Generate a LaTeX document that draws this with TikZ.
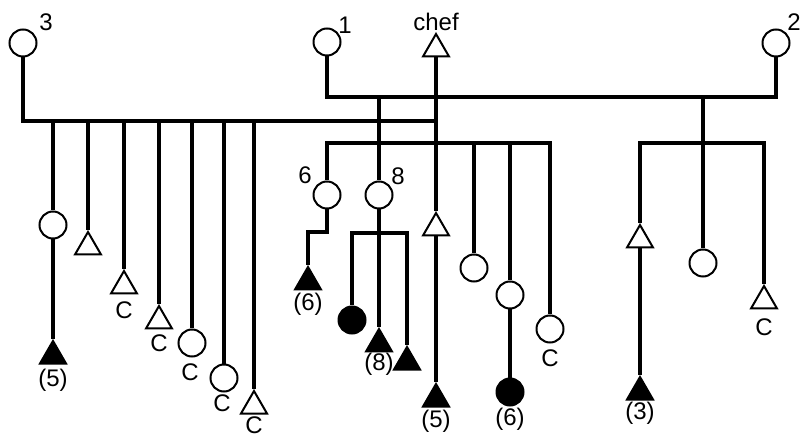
\documentclass[tikz,border=0pt]{standalone}
\usepackage{fontspec}
\setmainfont{Liberation Sans}
\usetikzlibrary{positioning,shapes.geometric}
\tikzstyle{fem} = [circle, draw=black, line width=1pt, minimum size=13.5pt, inner sep=0pt, fill=white]
\tikzstyle{mal} = [regular polygon, regular polygon sides=3, draw=black, line width=1pt, minimum size=15pt, inner sep=0pt, fill=white]
\tikzstyle{femx} = [fem, fill=black]
\tikzstyle{malx} = [mal, fill=black]
\tikzstyle{kin} = [draw, line width=1.6pt, color=black]
\tikzstyle{tag} = [inner sep=0.5pt, font=\fontsize{12}{13}\selectfont]

\begin{document}
\begin{tikzpicture}[x=0.5pt,y=-0.5pt]
  \useasboundingbox (0,0) rectangle (801,437);
  % first generation
  \node (w3) [fem] at (23,43) {};
  \node [tag] at (46,22) {3};
  \node (w1) [fem] at (327,42) {};
  \node [tag] at (345,25) {1};
  \node (w2) [fem] at (776,43) {};
  \node [tag] at (794,22) {2};
  \node (chef) [mal] at (436,49) {};
  \node [tag, above=0pt of chef] {chef};
  \coordinate (b3) at (436,121);
  \coordinate (b12) at (703,97);
  \draw [kin] (w3) |- (b3);
  \draw [kin] (w1) |- (b12) -| (w2);
  % children of 3
  \node (a1) [fem] at (53,225) {};
  \node (a1x) [malx] at (53,356) {};
  \node [tag, below=1.5pt of a1x] {(5)};
  \draw [kin] (a1) -- (a1|-b3);
  \draw [kin] (a1) -- (a1x);
  \node (a2) [mal] at (88,247) {};
  \draw [kin] (a2) -- (a2|-b3);
  \node (a3) [mal] at (124,286) {};
  \node [tag, below=3pt of a3] {C};
  \draw [kin] (a3) -- (a3|-b3);
  \node (a4) [mal] at (159,321) {};
  \node [tag, below=2pt of a4] {C};
  \draw [kin] (a4) -- (a4|-b3);
  \node (a5) [fem] at (192,343) {};
  \node [tag, below=2.5pt of a5, xshift=-1pt] {C};
  \draw [kin] (a5) -- (a5|-b3);
  \node (a6) [fem] at (224,378) {};
  \node [tag, below=0.5pt of a6, xshift=-1pt] {C};
  \draw [kin] (a6) -- (a6|-b3);
  \node (a7) [mal] at (254,406) {};
  \node [tag] at (254,425) {C};
  \draw [kin] (a7) -- (a7|-b3);
  % children of 1
  \coordinate (mbar) at (550,143);
  \node (w6) [fem] at (327,195) {};
  \node [tag] at (305,175) {6};
  \node (w8) [fem] at (379,195) {};
  \node [tag] at (398,176) {8};
  \node (s5) [mal] at (436,228) {};
  \node (g5) [malx] at (436,399) {};
  \node [tag, below=0.5pt of g5] {(5)};
  \node (b4) [fem] at (474,268) {};
  \node (b5) [fem] at (510,295) {};
  \node (b5x) [femx] at (510,392) {};
  \node [tag, below=0pt of b5x] {(6)};
  \node (b6) [fem] at (550,329) {};
  \node [tag, below=2.5pt of b6] {C};
  \draw [kin] (w8) -- (w8|-b12);
  \draw [kin] (chef) -- (s5);
  \draw [kin] (s5) -- (g5);
  \draw [kin] (w6) |- (mbar) -- (b6);
  \draw [kin] (b4) -- (b4|-mbar);
  \draw [kin] (b5) -- (b5|-mbar);
  \draw [kin] (b5) -- (b5x);
  % grandchildren
  \coordinate (k6) at (308,232);
  \node (s6) [malx] at (308,282) {};
  \node [tag, below=0.5pt of s6] {(6)};
  \draw [kin] (w6) |- (k6) -- (s6);
  \coordinate (b8) at (407,233);
  \node (d8) [femx] at (352,320) {};
  \node (s8) [malx] at (379,344) {};
  \node [tag, below=-0.5pt of s8] {(8)};
  \node (t8) [malx] at (407,362) {};
  \draw [kin] (w8) -- (s8);
  \draw [kin] (d8) |- (b8) -- (t8);
  % children of 2
  \coordinate (rbar) at (764,143);
  \node (r1) [mal] at (640,240) {};
  \node (r1x) [malx] at (640,392) {};
  \node [tag, below=0pt of r1x] {(3)};
  \node (r2) [fem] at (703,263) {};
  \node (r3) [mal] at (764,301) {};
  \node [tag, below=4pt of r3] {C};
  \draw [kin] (r2) -- (b12);
  \draw [kin] (r1) |- (rbar) -- (r3);
  \draw [kin] (r1) -- (r1x);
\end{tikzpicture}
\end{document}
